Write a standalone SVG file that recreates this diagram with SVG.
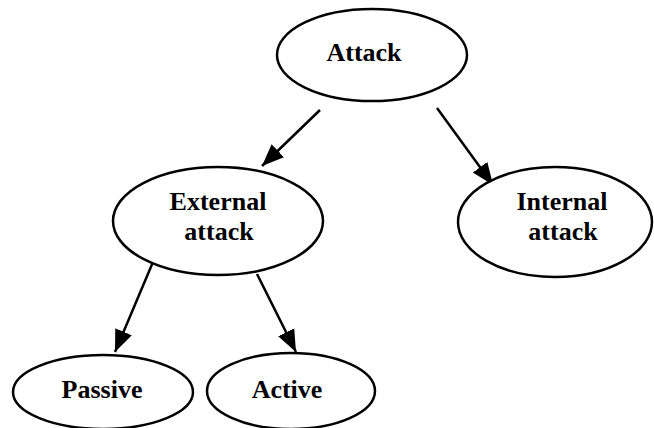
<svg xmlns="http://www.w3.org/2000/svg" width="654" height="428" viewBox="0 0 654 428">
  <style>
    .node ellipse { fill: #ffffff; stroke: #000000; stroke-width: 2.5; }
    .node text { font-family: "Liberation Serif", "Times New Roman", serif; font-weight: bold; font-size: 26px; fill: #000000; text-anchor: middle; }
    .edges line { stroke: #000000; stroke-width: 2.5; marker-end: url(#arrow); }
  </style>
  <defs>
    <marker id="arrow" markerUnits="userSpaceOnUse" markerWidth="24" markerHeight="20" refX="22" refY="9" orient="auto" viewBox="0 0 24 18">
      <path d="M0,0 L22,9 L0,18 Z" fill="#000000"/>
    </marker>
  </defs>
  <rect width="654" height="428" fill="#ffffff"/>

  <g class="edges">
    <line x1="320" y1="110" x2="262" y2="166"/>
    <line x1="437" y1="108" x2="493" y2="185"/>
    <line x1="153" y1="262" x2="115" y2="352"/>
    <line x1="257" y1="274" x2="296" y2="352"/>
  </g>

  <g id="attack" class="node">
    <ellipse cx="372" cy="55" rx="95" ry="46"/>
    <text x="364" y="61">Attack</text>
  </g>

  <g id="external-attack" class="node">
    <ellipse cx="218" cy="221" rx="105" ry="54"/>
    <text x="218" y="210">External</text>
    <text x="219" y="240">attack</text>
  </g>

  <g id="internal-attack" class="node">
    <ellipse cx="555" cy="222" rx="97" ry="55"/>
    <text x="562" y="210">Internal</text>
    <text x="563" y="240">attack</text>
  </g>

  <g id="passive" class="node">
    <ellipse cx="103" cy="392" rx="90" ry="37"/>
    <text x="102" y="398">Passive</text>
  </g>

  <g id="active" class="node">
    <ellipse cx="291" cy="391" rx="84" ry="38"/>
    <text x="287" y="398">Active</text>
  </g>
</svg>
